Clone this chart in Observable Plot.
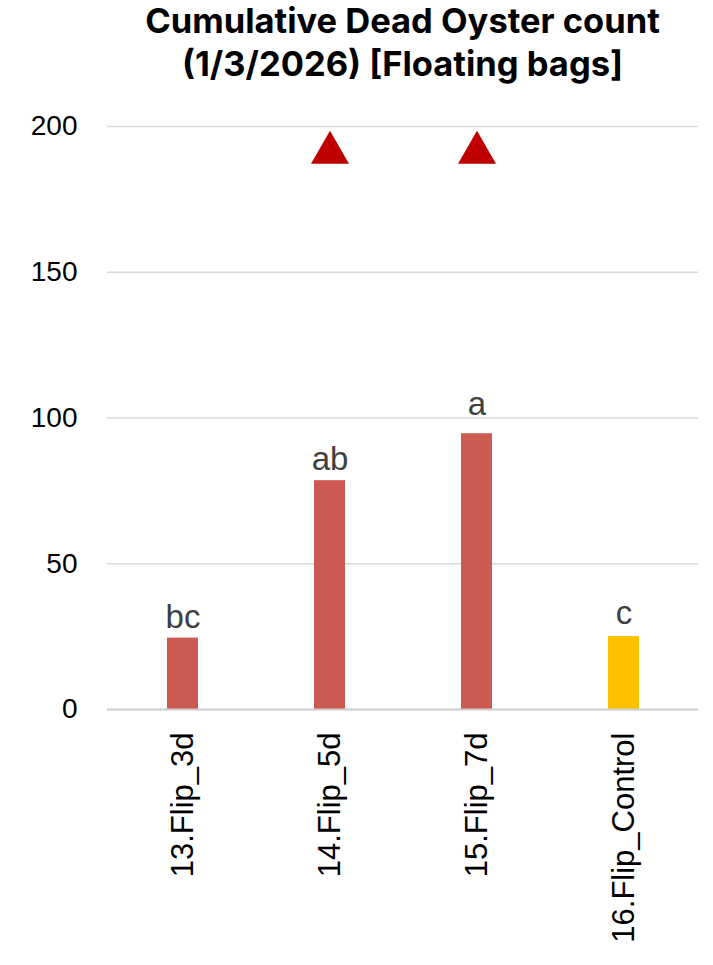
<!DOCTYPE html>
<html>
<head>
<meta charset="utf-8">
<script src="https://cdn.jsdelivr.net/npm/d3@7"></script>
<script src="https://cdn.jsdelivr.net/npm/@observablehq/plot@0.6"></script>
<style>
  html, body { margin: 0; padding: 0; background: #fff; }
  #wrap { width: 713px; height: 965px; overflow: hidden; position: relative; }
  #title { position: absolute; left: 87px; width: 631px; top: -1px; text-align: center;
    font-family: Inter, "Open Sans", sans-serif; font-weight: 700; font-size: 34.5px; line-height: 43px; color: #000; }
  #chart { position: absolute; left: 0; top: 95px; }
</style>
</head>
<body>
<div id="wrap">
  <div id="title">Cumulative Dead Oyster count<br>(1/3/2026) [Floating bags]</div>
  <div id="chart"></div>
</div>
<script>
const categories = ["13.Flip_3d", "14.Flip_5d", "15.Flip_7d", "16.Flip_Control"];
const values = [24.5, 78.5, 94.6, 25.0];
const letters = ["bc", "ab", "a", "c"];
const letterValues = [27.8, 82.3, 100.9, 29.2];
const barColors = ["#CD5A50", "#CD5A50", "#CD5A50", "#FFC000"];
const markerCategories = ["14.Flip_5d", "15.Flip_7d"];
const markerValues = [191, 191];
const yTicks = [0, 50, 100, 150, 200];

const bars = categories.map((c, i) => ({cat: c, value: values[i], letter: letters[i], ly: letterValues[i], color: barColors[i]}));
const markers = markerCategories.map((c, i) => ({cat: c, value: markerValues[i]}));

const plot = Plot.plot({
  width: 713,
  height: 870,
  marginTop: 31,
  marginBottom: 256,
  marginLeft: 107,
  marginRight: 15,
  style: {fontFamily: "'Liberation Sans', Arial, sans-serif", background: "transparent"},
  x: {domain: categories, paddingInner: 0.79, paddingOuter: 0.395, label: null},
  y: {domain: [0, 200], ticks: yTicks, label: null},
  marks: [
    Plot.gridY(yTicks, {stroke: "#D9D9D9", strokeOpacity: 1, strokeWidth: 1.3}),
    Plot.barY(bars, {x: "cat", y: "value", fill: "color"}),
    Plot.ruleY([0], {stroke: "#D0D0D0", strokeWidth: 2}),
    Plot.text(bars, {x: "cat", y: "ly", text: "letter", textAnchor: "middle", lineAnchor: "bottom", dy: 0, fontSize: 33, fill: "#404040"}),
    Plot.dot(markers, {x: "cat", y: "value", symbol: "triangle", r: 14.1, fill: "#C00000", stroke: "none"}),
    Plot.axisY({ticks: yTicks, tickSize: 0, tickPadding: 30, fontSize: 28, fill: "#000", label: null}),
    Plot.axisX({tickSize: 0, tickRotate: -90, tickPadding: 23, fontSize: 31, fill: "#000", label: null})
  ]
});
document.getElementById("chart").appendChild(plot);
</script>
</body>
</html>
